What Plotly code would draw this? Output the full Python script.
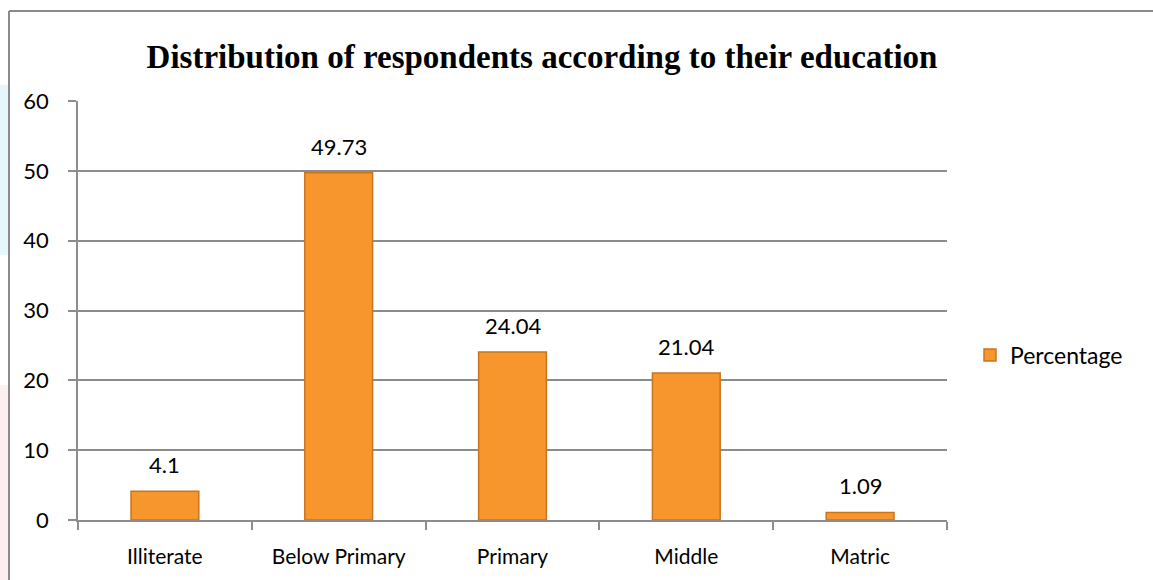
import plotly.graph_objects as go

# Education levels and share of respondents (%)
categories = ["Illiterate", "Below Primary", "Primary", "Middle", "Matric"]
percentages = [4.1, 49.73, 24.04, 21.04, 1.09]
value_labels = ["4.1", "49.73", "24.04", "21.04", "1.09"]
y_ticks = [0, 10, 20, 30, 40, 50, 60]

W, H = 1153, 580
L, R, T, B = 78, 206, 101, 60
pw, ph = W - L - R, H - T - B


def px_x(x):
    return (x - L) / pw


def px_y(y):
    return (H - B - y) / ph


sans = "Lato, Open Sans, sans-serif"

fig = go.Figure()
fig.add_trace(go.Bar(
    x=categories,
    y=percentages,
    name="Percentage",
    width=0.39,
    marker=dict(color="#F7962C", line=dict(color="#C9741F", width=1.5)),
))

# Value labels above each bar
for cat, val, lab in zip(categories, percentages, value_labels):
    fig.add_annotation(
        x=cat, y=val, text=lab, showarrow=False,
        xanchor="center", yanchor="bottom", yshift=11,
        font=dict(family=sans, size=22, color="#000000"),
    )

grid_color = "#8C8C8C"
fig.update_layout(
    width=W, height=H,
    margin=dict(l=L, r=R, t=T, b=B, pad=0),
    paper_bgcolor="white",
    plot_bgcolor="white",
    title=dict(
        text="<b>Distribution of respondents according to their education</b>",
        font=dict(family="Liberation Serif, Times New Roman, serif", size=33, color="#000000"),
        x=px_x(542), xref="paper", xanchor="center",
        y=1 - 56 / H, yref="container", yanchor="middle",
    ),
    showlegend=True,
    legend=dict(
        x=px_x(970), y=px_y(355), xref="paper", yref="paper",
        xanchor="left", yanchor="middle",
        font=dict(family=sans, size=23, color="#000000"),
        itemwidth=30, bgcolor="rgba(0,0,0,0)",
    ),
    xaxis=dict(
        type="category",
        showgrid=False,
        showline=True, linecolor=grid_color, linewidth=1.5,
        ticks="outside", tickson="boundaries", ticklen=8,
        tickcolor=grid_color, tickwidth=1.5,
        tickfont=dict(family=sans, size=21, color="#000000"),
        ticklabelstandoff=17,
    ),
    yaxis=dict(
        range=[0, 60],
        tickvals=y_ticks,
        showgrid=True, gridcolor=grid_color, gridwidth=1.5,
        showline=True, linecolor=grid_color, linewidth=1.5,
        ticks="outside", ticklen=8, tickcolor=grid_color, tickwidth=1.5,
        tickfont=dict(family=sans, size=22, color="#000000"),
        ticklabelstandoff=15,
        zeroline=False,
    ),
)

# Faint page tint along the left margin
fig.add_shape(type="rect", xref="paper", yref="paper", layer="below",
              x0=px_x(0), x1=px_x(9), y0=px_y(255), y1=px_y(85),
              line=dict(width=0), fillcolor="rgba(200,238,247,0.45)")
fig.add_shape(type="rect", xref="paper", yref="paper", layer="below",
              x0=px_x(0), x1=px_x(9), y0=px_y(580), y1=px_y(385),
              line=dict(width=0), fillcolor="rgba(250,220,220,0.45)")

# Outer chart frame (left and top edges visible)
frame = "#8A8A8A"
fig.add_shape(type="line", xref="paper", yref="paper",
              x0=px_x(9), x1=px_x(1165), y0=px_y(11), y1=px_y(11),
              line=dict(color=frame, width=2))
fig.add_shape(type="line", xref="paper", yref="paper",
              x0=px_x(9), x1=px_x(9), y0=px_y(11), y1=px_y(590),
              line=dict(color=frame, width=2))

fig.write_html("out.html")
